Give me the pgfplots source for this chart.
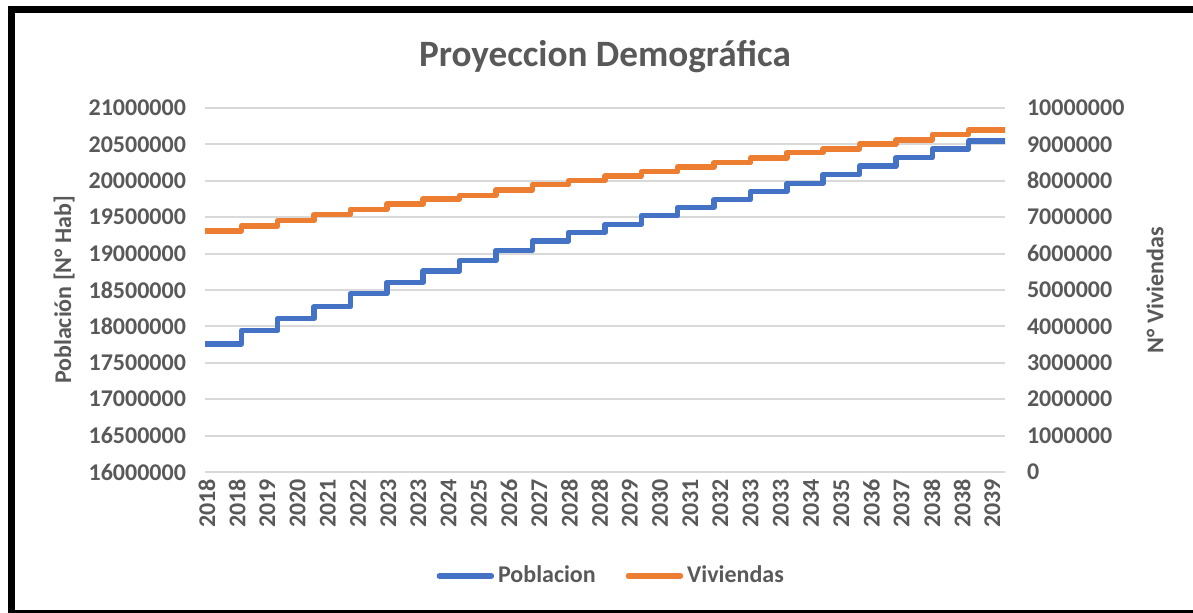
\documentclass[border=0pt]{standalone}
\usepackage{pgfplots}
\pgfplotsset{compat=1.18}
\usepackage{fontspec}
\setmainfont{Carlito}
\definecolor{txt}{HTML}{595959}
\definecolor{grd}{HTML}{D9D9D9}
\definecolor{cblue}{HTML}{4472C4}
\definecolor{corange}{HTML}{ED7D31}

\pgfplotstableread{
year pob
2018 17758000
2019 17941000
2020 18106000
2021 18271000
2022 18449000
2023 18605000
2024 18761000
2025 18902000
2026 19045000
2027 19173000
2028 19292000
2029 19402000
2030 19520000
2031 19635000
2032 19740000
2033 19856000
2034 19965000
2035 20089000
2036 20200000
2037 20317000
2038 20436000
2039 20546000
2040 20546000
}\pobtable

\pgfplotstableread{
year viv
2018 6620000
2019 6758000
2020 6905000
2021 7070000
2022 7217000
2023 7363000
2024 7500000
2025 7600000
2026 7747000
2027 7893000
2028 8003000
2029 8132000
2030 8250000
2031 8379000
2032 8497000
2033 8626000
2034 8772000
2035 8874000
2036 9010000
2037 9120000
2038 9267000
2039 9396000
2040 9396000
}\vivtable

\begin{document}
\begin{tikzpicture}
\useasboundingbox (0pt,0pt) rectangle (596.5pt,306.5pt);
\fill[white] (0pt,0pt) rectangle (596.5pt,306.5pt);
\draw[black, line width=3.5pt] (5.75pt,-0.25pt) rectangle (602pt,301.9pt);
\pgfplotsset{
  common/.style={
    at={(102.5pt,70.5pt)}, anchor=south west,
    scale only axis, width=400pt, height=182pt,
    xmin=2018, xmax=2040,
    axis line style={draw=none},
    major tick length=0pt,
    scaled y ticks=false,
    tick label style={font=\fontsize{12pt}{14pt}\selectfont\bfseries, text=txt},
  }
}
\begin{axis}[common,
  ymin=16000000, ymax=21000000,
  ytick={16000000,16500000,17000000,17500000,18000000,18500000,19000000,19500000,20000000,20500000,21000000},
  yticklabels={16000000,16500000,17000000,17500000,18000000,18500000,19000000,19500000,20000000,20500000,21000000},
  yticklabel style={anchor=east, xshift=-6pt},
  ymajorgrids, grid style={grd, line width=1pt},
  xtick={2018.055,2018.886,2019.716,2020.547,2021.377,2022.208,2023.039,2023.869,2024.700,2025.530,2026.361,2027.192,2028.022,2028.853,2029.683,2030.514,2031.345,2032.175,2033.006,2033.836,2034.667,2035.498,2036.328,2037.159,2037.989,2038.820,2039.651},
  xticklabels={2018,2018,2019,2020,2021,2022,2023,2023,2024,2025,2026,2027,2028,2028,2029,2030,2031,2032,2033,2033,2034,2035,2036,2037,2038,2038,2039},
  xticklabel style={rotate=90, anchor=east},
  ylabel={Población [N° Hab]},
  every axis y label/.style={at={(axis description cs:-0.176,0.5)}, rotate=90, anchor=center, font=\fontsize{12pt}{14pt}\selectfont\bfseries, text=txt},
  title={Proyeccion Demográfica},
  every axis title/.style={at={(axis description cs:0.5,1.141)}, anchor=center, font=\fontsize{18.6pt}{21pt}\selectfont\bfseries, text=txt},
]
\addplot[const plot mark left, cblue, line width=2.75pt, line join=round, line cap=round] table[x=year, y=pob] {\pobtable};
\end{axis}
\begin{axis}[common,
  axis x line=none,
  axis y line*=right,
  ymin=0, ymax=10000000,
  ytick={0,1000000,2000000,3000000,4000000,5000000,6000000,7000000,8000000,9000000,10000000},
  yticklabels={0,1000000,2000000,3000000,4000000,5000000,6000000,7000000,8000000,9000000,10000000},
  yticklabel style={anchor=west, xshift=7.5pt},
  ylabel={N° Viviendas},
  every axis y label/.style={at={(axis description cs:1.1875,0.5)}, rotate=90, anchor=center, font=\fontsize{12pt}{14pt}\selectfont\bfseries, text=txt},
  legend image code/.code={\draw[#1, line cap=round] (0pt,0pt) -- (26pt,0pt);},
  legend style={draw=none, fill=none, at={(0.509,-0.2857)}, anchor=center, legend columns=2,
    /tikz/every even column/.append style={column sep=13pt},
    font=\fontsize{12pt}{14pt}\selectfont\bfseries, text=txt},
  legend cell align=left,
]
\addlegendimage{cblue, line width=2.75pt}
\addlegendentry{Poblacion}
\addplot[const plot mark left, corange, line width=2.75pt, line join=round, line cap=round] table[x=year, y=viv] {\vivtable};
\addlegendentry{Viviendas}
\end{axis}
\end{tikzpicture}
\end{document}
